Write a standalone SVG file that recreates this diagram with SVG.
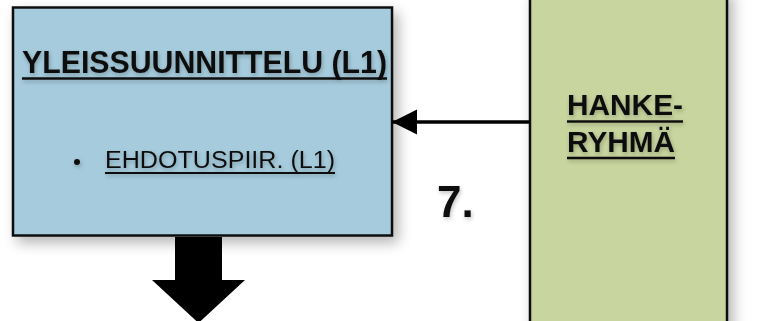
<svg xmlns="http://www.w3.org/2000/svg" width="761" height="321" viewBox="0 0 761 321">
  <defs>
    <filter id="shadow" x="-20%" y="-20%" width="140%" height="140%">
      <feGaussianBlur in="SourceAlpha" stdDeviation="7"/>
      <feOffset dx="5" dy="6" result="b"/>
      <feComponentTransfer><feFuncA type="linear" slope="0.3"/></feComponentTransfer>
      <feMerge><feMergeNode/><feMergeNode in="SourceGraphic"/></feMerge>
    </filter>
    <filter id="tshadow" x="-10%" y="-30%" width="120%" height="160%">
      <feGaussianBlur in="SourceAlpha" stdDeviation="2"/>
      <feOffset dx="1" dy="2"/>
      <feComponentTransfer><feFuncA type="linear" slope="0.25"/></feComponentTransfer>
      <feMerge><feMergeNode/><feMergeNode in="SourceGraphic"/></feMerge>
    </filter>
    <marker id="arrowhead" markerUnits="userSpaceOnUse" markerWidth="26" markerHeight="26" refX="25" refY="13" orient="auto" viewBox="0 0 26 26">
      <path d="M25,13 L0,0.5 L0,25.5 Z" fill="#000"/>
    </marker>
  </defs>
  <style>
    .box { stroke: #111; stroke-width: 2.5; }
    .bold { font-family: "Liberation Sans", Arial, sans-serif; font-weight: bold; fill: #111; }
    .reg { font-family: "Liberation Sans", Arial, sans-serif; fill: #111; }
    .ul { stroke: #111; }
  </style>
  <rect width="761" height="321" fill="#fff"/>

  <g id="hankeryhma">
    <rect class="box" x="530" y="-10" width="197" height="345" fill="#c8d59e" filter="url(#shadow)"/>
    <g filter="url(#tshadow)">
      <text class="bold" x="567" y="115" font-size="30" textLength="116" lengthAdjust="spacingAndGlyphs">HANKE-</text>
      <line class="ul" x1="567" y1="121.5" x2="683" y2="121.5" stroke-width="2.5"/>
      <text class="bold" x="567" y="152" font-size="30" textLength="108" lengthAdjust="spacingAndGlyphs">RYHMÄ</text>
      <line class="ul" x1="567" y1="158" x2="675" y2="158" stroke-width="2.5"/>
    </g>
  </g>

  <g id="yleissuunnittelu">
    <rect class="box" x="13" y="7.5" width="379" height="228" fill="#a5cbdc" filter="url(#shadow)"/>
    <g filter="url(#tshadow)">
      <text class="bold" x="22" y="72.5" font-size="31" textLength="365" lengthAdjust="spacingAndGlyphs">YLEISSUUNNITTELU (L1)</text>
      <line class="ul" x1="22" y1="78.5" x2="387" y2="78.5" stroke-width="2.5"/>
      <circle cx="77" cy="162" r="3" fill="#111"/>
      <text class="reg" x="105" y="168" font-size="23" textLength="230" lengthAdjust="spacingAndGlyphs">EHDOTUSPIIR. (L1)</text>
      <line class="ul" x1="105" y1="173" x2="335" y2="173" stroke-width="1.8"/>
    </g>
  </g>

  <g id="label7">
    <text class="bold" x="437" y="217" font-size="44" filter="url(#tshadow)">7.</text>
  </g>

  <g id="connectors">
    <line x1="530" y1="122" x2="392" y2="122" stroke="#000" stroke-width="3.5" marker-end="url(#arrowhead)"/>
    <path d="M175,237 L222,237 L222,280 L245,280 L198.5,323 L152,280 L175,280 Z" fill="#000"/>
  </g>
</svg>
